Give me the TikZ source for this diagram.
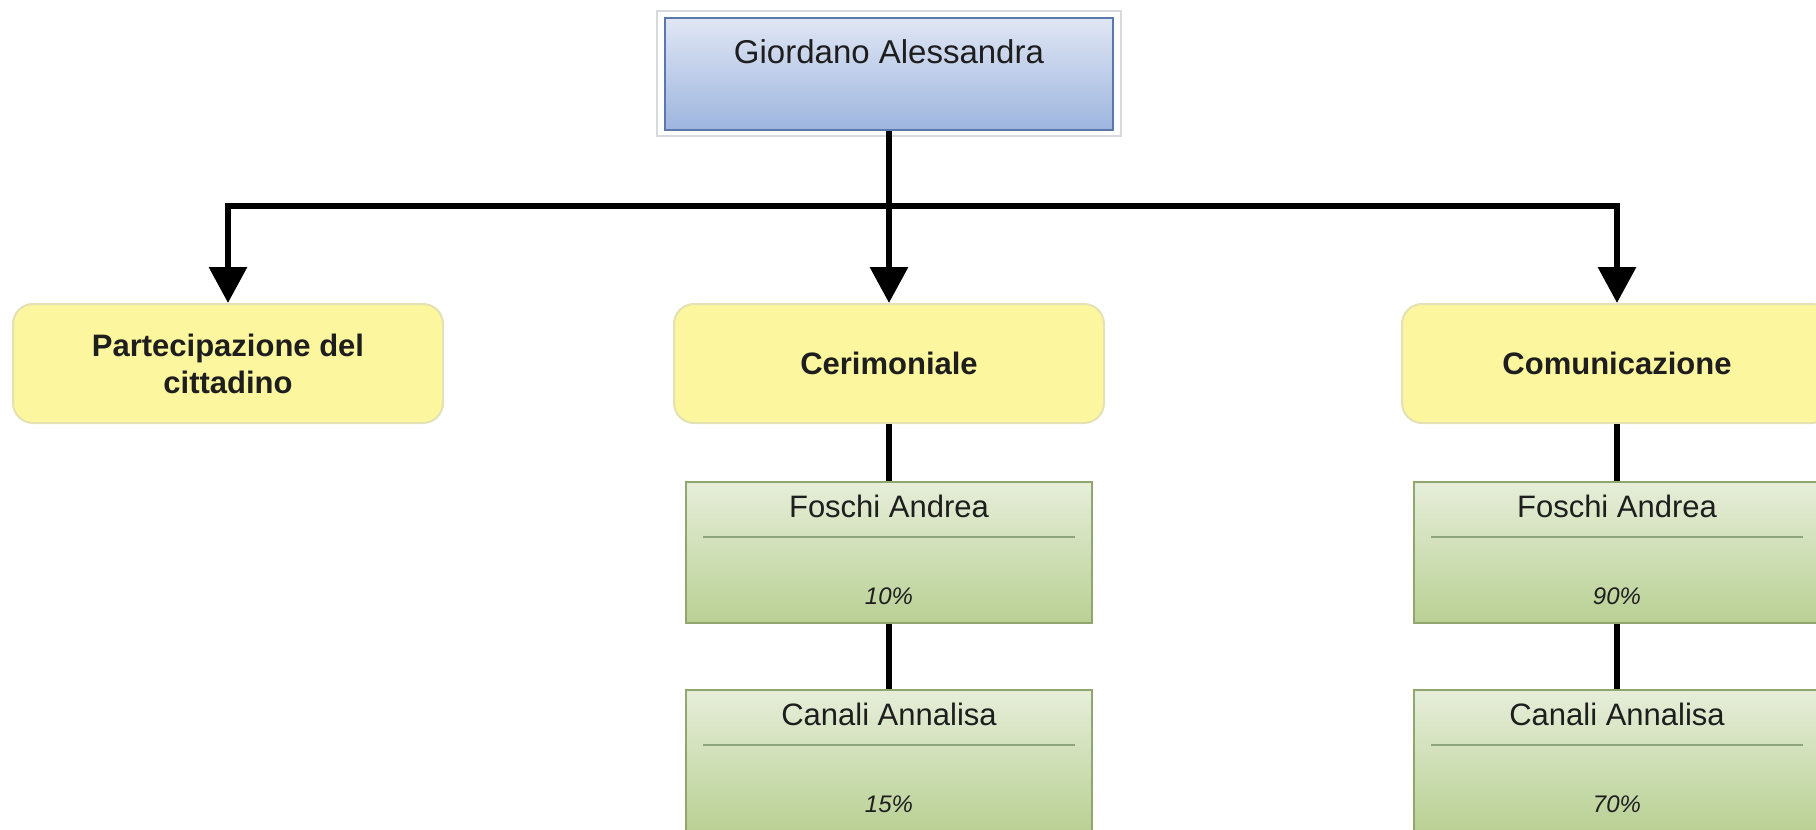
\documentclass[tikz,border=0pt]{standalone}
\usepackage{fontspec}
\setmainfont{Liberation Sans}
\usetikzlibrary{arrows.meta,calc}

\definecolor{headtop}{HTML}{E0E6F4}
\definecolor{headbot}{HTML}{9DB5DE}
\definecolor{headedge}{HTML}{5A78AC}
\definecolor{frameedge}{HTML}{D6D9DE}
\definecolor{unitfill}{HTML}{FCF69E}
\definecolor{unitedge}{HTML}{E4E1B4}
\definecolor{stafftop}{HTML}{E6EED9}
\definecolor{staffbot}{HTML}{B9D094}
\definecolor{staffedge}{HTML}{8FA66E}
\definecolor{sepcolor}{HTML}{8DA47C}
\definecolor{inkcolor}{HTML}{1E1E1E}

\tikzset{
  headbox/.style={draw=headedge, line width=1.1pt, top color=headtop,
    bottom color=headbot, minimum width=224pt, minimum height=56pt, inner sep=0pt},
  headlabel/.style={text=inkcolor, inner sep=0pt, font=\fontsize{16.5}{19}\selectfont},
  unitbox/.style={draw=unitedge, line width=1pt, fill=unitfill, rounded corners=10pt,
    minimum width=215pt, minimum height=59.5pt, inner sep=0pt, align=center,
    text=inkcolor, font=\bfseries\fontsize{15.5}{18.5}\selectfont},
  staffbox/.style={draw=staffedge, line width=1pt, top color=stafftop,
    bottom color=staffbot, minimum width=203pt, minimum height=70.5pt, inner sep=0pt},
  namelabel/.style={text=inkcolor, inner sep=0pt, font=\fontsize{15.5}{18}\selectfont},
  pctlabel/.style={text=inkcolor, inner sep=0pt, font=\itshape\fontsize{12}{14}\selectfont},
  sepline/.style={draw=sepcolor, line width=0.8pt},
  conn/.style={draw=black, line width=3.2pt},
  arrowconn/.style={conn, -{Triangle[width=18.5pt,length=18pt]}},
}

% one staff card: box, name, separator, percentage
\newcommand\staffcard[4]{%
  \node[staffbox] (#1) at (#2) {};
  \node[namelabel] (#1-name) at ($(#1.north)+(0,25)$) {#3};
  \draw[sepline] ($(#1.north west)+(18,56)$) -- ($(#1.north east)+(-18,56)$);
  \node[pctlabel] (#1-pct) at ($(#1.north)+(0,115)$) {#4};
}

\begin{document}
\begin{tikzpicture}[x=0.5pt,y=-0.5pt]
  \useasboundingbox (0,0) rectangle (1816,830);
  \clip (0,0) rectangle (1816,830);

  % head of the office
  \node[headbox] (top) at (889,74) {};
  \draw[frameedge, line width=1pt]
    ($(top.north west)+(-7,-6)$) rectangle ($(top.south east)+(7,5)$);
  \node[headlabel] (topname) at ($(top.north)+(0,35)$) {Giordano Alessandra};

  % units
  \node[unitbox] (part) at (228,363.5) {Partecipazione del\\cittadino};
  \node[unitbox] (cer)  at (889,363.5) {Cerimoniale};
  \node[unitbox] (com)  at (1617,363.5) {Comunicazione};

  % staff
  \staffcard{cerA}{889,552.5}{Foschi Andrea}{10\%}
  \staffcard{cerB}{889,760.5}{Canali Annalisa}{15\%}
  \staffcard{comA}{1617,552.5}{Foschi Andrea}{90\%}
  \staffcard{comB}{1617,760.5}{Canali Annalisa}{70\%}

  % connectors
  \coordinate (hub) at (889,206);
  \draw[conn] (top.south) -- (hub);
  \draw[arrowconn] (hub) -- (cer.north);
  \draw[arrowconn] (hub) -| (part.north);
  \draw[arrowconn] (hub) -| (com.north);
  \draw[conn] (cer.south) -- (cerA.north);
  \draw[conn] (cerA.south) -- (cerB.north);
  \draw[conn] (com.south) -- (comA.north);
  \draw[conn] (comA.south) -- (comB.north);
\end{tikzpicture}
\end{document}
